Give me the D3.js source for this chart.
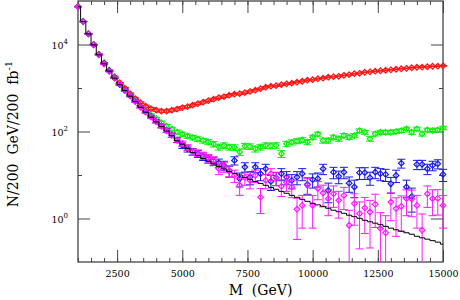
<!DOCTYPE html>
<html>
<head>
<meta charset="utf-8">
<script src="https://cdnjs.cloudflare.com/ajax/libs/d3/7.8.5/d3.min.js"></script>
<style>
  body { margin: 0; background: #fff; }
  text { font-family: "DejaVu Serif", serif; fill: #000; }
</style>
</head>
<body>
<div id="chart"></div>
<script>
// bin centres (GeV), 200 GeV bins
var mass = [1000, 1200, 1400, 1600, 1800, 2000, 2200, 2400, 2600, 2800,
    3000, 3200, 3400, 3600, 3800, 4000, 4200, 4400, 4600, 4800,
    5000, 5200, 5400, 5600, 5800, 6000, 6200, 6400, 6600, 6800,
    7000, 7200, 7400, 7600, 7800, 8000, 8200, 8400, 8600, 8800,
    9000, 9200, 9400, 9600, 9800, 10000, 10200, 10400, 10600, 10800,
    11000, 11200, 11400, 11600, 11800, 12000, 12200, 12400, 12600, 12800,
    13000, 13200, 13400, 13600, 13800, 14000, 14200, 14400, 14600, 14800,
    15000];

// background only (black histogram)
var background = [74000, 33600, 17500, 9800, 5790, 3600, 2430, 1680, 1190, 867,
    649, 486, 363, 279, 214, 167, 131, 103, 80, 61,
    51, 41, 33, 28, 24, 20.6, 18, 15.7, 13.8, 12.1,
    10.9, 10.0, 8.8, 7.9, 7.1, 6.4, 5.8, 5.2, 4.7, 4.2,
    3.8, 3.4, 3.07, 2.76, 2.48, 2.23, 2.06, 1.91, 1.72, 1.55,
    1.43, 1.32, 1.19, 1.10, 1.01, 0.91, 0.84, 0.78, 0.72, 0.66,
    0.60, 0.55, 0.51, 0.47, 0.435, 0.39, 0.36, 0.335, 0.31, 0.286,
    0.257];

var redVals = [74800, 33900, 17800, 10100, 6010, 3800, 2560, 1820, 1320, 990,
    740, 569, 460, 383, 336, 310, 294, 294, 310, 327,
    354, 373, 404, 437, 473, 512, 554, 600, 632, 684,
    721, 740, 780, 836, 891, 964, 1043, 1100, 1130, 1190,
    1250, 1290, 1360, 1430, 1510, 1550, 1630, 1680, 1770, 1820,
    1860, 1960, 2020, 2130, 2180, 2300, 2360, 2430, 2490, 2560,
    2620, 2700, 2770, 2840, 2920, 3000, 3020, 3080, 3160, 3180,
    3240];
var redErr = [273, 184, 133, 100, 78, 62, 51, 43, 36, 31,
    27, 24, 21, 20, 18, 18, 17, 17, 18, 18,
    19, 19, 20, 21, 22, 23, 24, 24, 25, 26,
    27, 27, 28, 29, 30, 31, 32, 33, 34, 34,
    35, 36, 37, 38, 39, 39, 40, 41, 42, 43,
    43, 44, 45, 46, 47, 48, 49, 49, 50, 51,
    51, 52, 53, 53, 54, 55, 55, 55, 56, 56,
    57];

var greenVals = [74000, 33700, 17600, 9850, 5820, 3630, 2450, 1700, 1210, 885,
    667, 499, 373, 287, 238, 198, 160, 133, 114, 97,
    87, 78.6, 72.6, 67.1, 62.1, 57.3, 51.5, 44, 47.7, 44,
    42.9, 33.8, 46.4, 45.2, 40, 44, 47.7, 47, 48, 30.8,
    52.1, 56.7, 60.4, 63.7, 57.3, 73.8, 87.3, 62.1, 62, 73.8,
    67.9, 80.7, 73.8, 80.7, 105, 96.1, 67.9, 88.3, 96, 96,
    96, 99.8, 105, 115, 96, 115, 88, 109, 105, 109,
    121];
var greenErr = [272, 184, 133, 99, 76, 60, 49, 41, 35, 30,
    26, 22, 19, 17, 15, 14, 13, 12, 11, 10,
    9.3, 8.9, 8.5, 8.2, 7.9, 7.6, 7.2, 6.6, 6.9, 6.6,
    6.5, 5.8, 6.8, 6.7, 6.3, 6.6, 6.9, 6.9, 6.9, 5.5,
    7.2, 7.5, 7.8, 8.0, 7.6, 8.6, 9.3, 7.9, 7.9, 8.6,
    8.2, 9.0, 8.6, 9.0, 10, 9.8, 8.2, 9.4, 9.8, 9.8,
    9.8, 10, 10, 11, 9.8, 11, 9.4, 10, 10, 10,
    11];

var blueVals = [74200, 33800, 17600, 9900, 5850, 3650, 2460, 1700, 1200, 880,
    660, 495, 370, 284, 219, 172, 134, 106, 83, 64,
    47.7, 40, 34.7, 30.8, 26.7, 23.6, 21.0, 18.9, 16.6, 12.4,
    21.6, 8.2, 15.2, 8.95, 15.2, 10.7, 13.9, 7.1, 8.6, 10.7,
    8.95, 7.5, 8.95, 10.7, 6.1, 7.8, 8.2, 13.9, 4.4, 11.6,
    9.3, 11.6, 6.5, 5.3, 11.3, 11.3, 8.7, 11.6, 10.7, 10.3,
    6.3, 9.8, 18.7, 5.3, 3.2, 17.5, 17.5, 13.9, 16.6, 18.1,
    10.3];
var blueErr = [272, 184, 133, 99, 76, 60, 50, 41, 35, 30,
    26, 22, 19, 17, 15, 13, 12, 10, 9.1, 8.0,
    6.9, 6.3, 5.9, 5.5, 5.2, 4.9, 4.6, 4.3, 4.1, 3.5,
    4.6, 2.9, 3.9, 3.0, 3.9, 3.3, 3.7, 2.7, 2.9, 3.3,
    3.0, 2.7, 3.0, 3.3, 2.5, 2.8, 2.9, 3.7, 2.1, 3.4,
    3.0, 3.4, 2.5, 2.3, 3.4, 3.4, 2.9, 3.4, 3.3, 3.2,
    2.5, 3.1, 4.3, 2.3, 1.8, 4.2, 4.2, 3.7, 4.1, 4.3,
    3.2];

var pinkVals = [74000, 33600, 17500, 9800, 5790, 3540, 2400, 1700, 1240, 867,
    656, 486, 360, 278, 213, 168, 131, 104, 82, 63,
    53, 43, 34, 32.1, 28.1, 24.7, 21.6, 13.9, 15.2, 12.7,
    9.8, 5.8, 8.8, 7.5, 9.8, 3.1, 7.5, 10.7, 8.6, 5.5,
    6.8, 5.3, 1.63, 2.0, 5.8, 2.0, 4.9, 3.85, 2.86, 3.7,
    2.62, 3.4, 0.70, 2.2, 1.30, 1.75, 1.41, 2.12, 0.59, 0.47,
    2.39, 1.69, 1.91, 2.86, 2.8, 2.0, 0.54, 3.7, 2.86, 2.9,
    2.0];
var pinkErr = [272, 183, 132, 99, 76, 59, 49, 41, 35, 29,
    26, 22, 19, 17, 15, 13, 11, 10, 9.1, 7.9,
    7.3, 6.6, 5.8, 5.7, 5.3, 5.0, 4.6, 3.7, 3.9, 3.6,
    3.1, 2.4, 3.0, 2.7, 3.1, 1.8, 2.7, 3.3, 2.9, 2.3,
    2.6, 2.3, 1.3, 1.4, 2.4, 1.4, 2.2, 2.0, 1.7, 1.9,
    1.6, 1.8, 0.84, 1.5, 1.1, 1.3, 1.2, 1.5, 0.77, 0.69,
    1.5, 1.3, 1.4, 1.7, 1.7, 1.4, 0.73, 1.9, 1.7, 1.7,
    1.4];

var xMajor = [2500, 5000, 7500, 10000, 12500, 15000];
var yMajorExp = [0, 2, 4];
var yMinor = [10, 1000];

var svgWidth = 460, svgHeight = 300;
var margin = { top: 1, right: 17, bottom: 38, left: 78 };
var width = svgWidth - margin.left - margin.right;
var height = svgHeight - margin.top - margin.bottom;

var svg = d3.select("#chart").append("svg")
    .attr("width", svgWidth)
    .attr("height", svgHeight);

var chartGroup = svg.append("g")
    .attr("transform", `translate(${margin.left}, ${margin.top})`);

var xScale = d3.scaleLinear().domain([1000, 15000]).range([0, width]);
var yScale = d3.scaleLog().domain([0.1, 1e5]).range([height, 0]);

var axisColor = "#444";
var xMinor = d3.range(1000, 15001, 500);

// bottom / top ticks (pointing inward)
chartGroup.append("g").attr("transform", `translate(0,${height})`).attr("color", axisColor)
    .call(d3.axisBottom(xScale).tickValues(xMinor).tickSize(-4).tickSizeOuter(0).tickFormat(""));
var xAxis = chartGroup.append("g").attr("transform", `translate(0,${height})`).attr("color", axisColor)
    .call(d3.axisBottom(xScale).tickValues(xMajor).tickSize(-12).tickSizeOuter(0).tickPadding(8).tickFormat(d3.format("d")));
xAxis.selectAll("text").attr("font-size", 9.5).attr("font-family", "DejaVu Serif").attr("fill", "#000");
chartGroup.append("g").attr("color", axisColor)
    .call(d3.axisTop(xScale).tickValues(xMinor).tickSize(-4).tickSizeOuter(0).tickFormat(""));
chartGroup.append("g").attr("color", axisColor)
    .call(d3.axisTop(xScale).tickValues(xMajor).tickSize(-12).tickSizeOuter(0).tickFormat(""));

// left / right ticks
var yMajor = yMajorExp.map(e => Math.pow(10, e));
[["L", 0], ["R", width]].forEach(function (side) {
    var mk = side[0] === "L" ? d3.axisLeft : d3.axisRight;
    chartGroup.append("g").attr("transform", `translate(${side[1]},0)`).attr("color", axisColor)
        .call(mk(yScale).tickValues(yMajor).tickSize(-12).tickSizeOuter(0).tickFormat(""));
    chartGroup.append("g").attr("transform", `translate(${side[1]},0)`).attr("color", axisColor)
        .call(mk(yScale).tickValues(yMinor).tickSize(-4).tickSizeOuter(0).tickFormat(""));
});
chartGroup.selectAll(".domain").remove();

// y tick labels 10^n
yMajorExp.forEach(function (e) {
    var t = chartGroup.append("text")
        .attr("x", -10)
        .attr("y", yScale(Math.pow(10, e)) + 4)
        .attr("text-anchor", "end")
        .attr("font-size", 9.5);
    t.append("tspan").text("10");
    t.append("tspan").attr("font-size", 7).attr("dy", -5).text(e);
});

// frame
chartGroup.append("rect")
    .attr("width", width).attr("height", height)
    .attr("fill", "none").attr("stroke", axisColor).attr("stroke-width", 1.3);

// clip data at the bottom of the frame
chartGroup.append("clipPath").attr("id", "clip")
    .append("rect").attr("x", -10).attr("y", 0).attr("width", width + 20).attr("height", height);
var plot = chartGroup.append("g").attr("clip-path", "url(#clip)");

var series = [
    { vals: redVals, errs: redErr, color: "#ff1414" },
    { vals: greenVals, errs: greenErr, color: "#10ee10" },
    { vals: blueVals, errs: blueErr, color: "#1a1ae0" },
    { vals: pinkVals, errs: pinkErr, color: "#ff1aff" }
];

var cap = 4, r = 2.8;
series.forEach(function (s) {
    var pts = mass.map(function (m, i) { return { m: m, v: s.vals[i], e: s.errs[i] }; });
    var g = plot.append("g").attr("stroke", s.color).attr("fill", "none").attr("stroke-width", 1);
    var pt = g.selectAll("g").data(pts).enter().append("g");
    pt.append("line")
        .attr("x1", d => xScale(d.m)).attr("x2", d => xScale(d.m))
        .attr("y1", d => yScale(d.v + d.e))
        .attr("y2", d => d.v - d.e > 0.1 ? yScale(d.v - d.e) : height + 2);
    pt.append("line")
        .attr("x1", d => xScale(d.m) - cap).attr("x2", d => xScale(d.m) + cap)
        .attr("y1", d => yScale(d.v + d.e)).attr("y2", d => yScale(d.v + d.e));
    pt.filter(d => d.v - d.e > 0.1).append("line")
        .attr("x1", d => xScale(d.m) - cap).attr("x2", d => xScale(d.m) + cap)
        .attr("y1", d => yScale(d.v - d.e)).attr("y2", d => yScale(d.v - d.e));
    pt.append("path")
        .attr("stroke-width", 1.2)
        .attr("d", function (d) {
            var cx = xScale(d.m), cy = yScale(d.v);
            return `M${cx},${cy - r}L${cx + r},${cy}L${cx},${cy + r}L${cx - r},${cy}Z`;
        });
});

// background histogram
var bgLine = d3.line()
    .x((d, i) => xScale(mass[i]))
    .y(d => yScale(d))
    .curve(d3.curveStep);
plot.append("path")
    .datum(background)
    .attr("d", bgLine)
    .attr("fill", "none")
    .attr("stroke", "#000")
    .attr("stroke-width", 1);

// axis labels
chartGroup.append("text")
    .attr("x", width / 2)
    .attr("y", 295 - margin.top)
    .attr("text-anchor", "middle")
    .attr("font-size", 14)
    .style("white-space", "pre")
    .text("M  (GeV)");

var yl = svg.append("text")
    .attr("transform", "translate(17.5,134) rotate(-90)")
    .attr("text-anchor", "middle")
    .attr("font-size", 14)
    .style("white-space", "pre");
yl.append("tspan").text("N/200  GeV/200  fb");
yl.append("tspan").attr("font-size", 10).attr("dy", -6).text("-1");
</script>
</body>
</html>
